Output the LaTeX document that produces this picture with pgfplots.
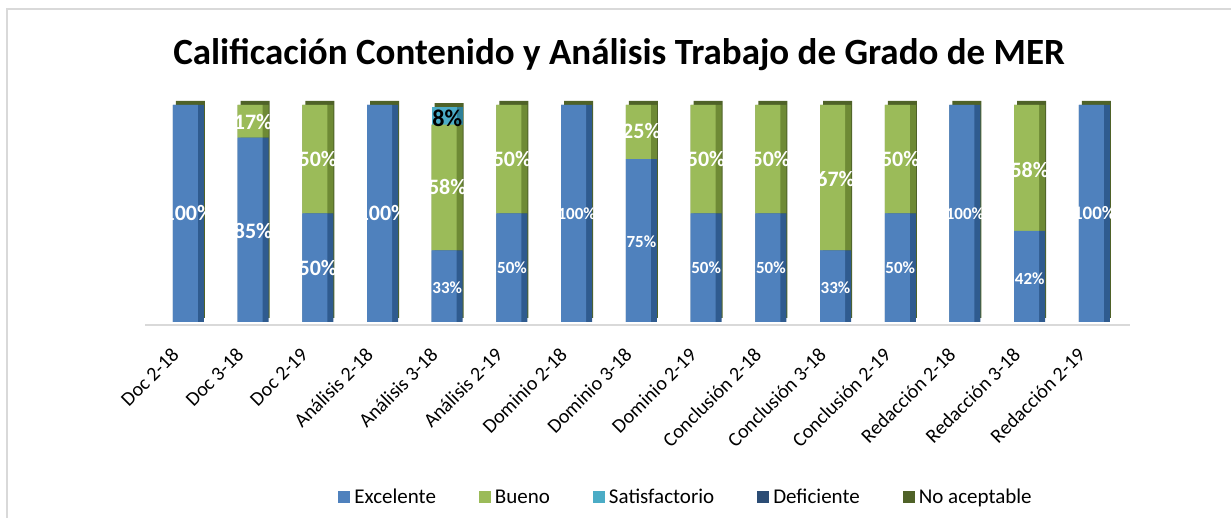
\documentclass[border=0pt]{standalone}
\usepackage{pgfplots}
\usepackage{pgfplotstable}
\pgfplotsset{compat=1.18}
\usepackage{fontspec}
\setmainfont{Carlito}
\definecolor{exc}{HTML}{4F81BD}
\definecolor{excd}{HTML}{2F5B8F}
\definecolor{bue}{HTML}{9BBB59}
\definecolor{bued}{HTML}{6E8A35}
\definecolor{sat}{HTML}{4BACC6}
\definecolor{satd}{HTML}{2E8098}
\definecolor{def}{HTML}{2C4D75}
\definecolor{defd}{HTML}{1F3A5A}
\definecolor{noa}{HTML}{4F6228}
\definecolor{frame}{HTML}{D9D9D9}
\pgfplotstableread{
x exc bue sat def noa
0 100 0 0 0 0
1 85 15 0 0 0
2 50 50 0 0 0
3 100 0 0 0 0
4 33 58 8 0 0
5 50 50 0 0 0
6 100 0 0 0 0
7 75 25 0 0 0
8 50 50 0 0 0
9 50 50 0 0 0
10 33 67 0 0 0
11 50 50 0 0 0
12 100 0 0 0 0
13 42 58 0 0 0
14 100 0 0 0 0
}\datatable
\pgfplotsset{
  base/.style={
    scale only axis, width=985pt, height=220pt,
    at={(145pt,193pt)}, anchor=south west,
    xmin=-0.67, xmax=14.55, ymin=-1.4, ymax=100,
  },
}
\begin{document}
\begin{tikzpicture}
\path[use as bounding box] (0,0) rectangle (1231pt,518pt);
\draw[frame, line width=2pt] (7pt,0pt) -- (7pt,508.5pt) -- (1231pt,508.5pt);
\node[font=\bfseries\fontsize{37}{42}\selectfont] at (619pt,463pt) {Calificación Contenido y Análisis Trabajo de Grado de MER};
% top caps (3D top face of the stacked columns)
\begin{axis}[base, ybar, bar width=29pt, bar shift=2pt, yshift=4pt, hide axis]
\addplot[fill=noa, draw=none] table[x=x, y expr=\thisrow{exc}+\thisrow{bue}+\thisrow{sat}+\thisrow{def}+\thisrow{noa}] {\datatable};
\end{axis}
% back layer: dark sides
\begin{axis}[base, ybar stacked, bar width=31pt,
  axis y line=none, axis x line*=bottom,
  x axis line style={draw=frame, line width=2pt, -},
  xtick={0,...,14}, major tick length=0pt,
  xticklabels={Doc 2-18, Doc 3-18, Doc 2-19, Análisis 2-18, Análisis 3-18, Análisis 2-19, Dominio 2-18, Dominio 3-18, Dominio 2-19, Conclusión 2-18, Conclusión 3-18, Conclusión 2-19, Redacción 2-18, Redacción 3-18, Redacción 2-19},
  xticklabel style={xshift=-18pt, yshift=-20pt, rotate=45, anchor=north east, font=\fontsize{20}{24}\selectfont, inner sep=1pt},
]
\addplot[fill=excd, draw=none] table[x=x, y=exc] {\datatable};
\addplot[fill=bued, draw=none] table[x=x, y=bue] {\datatable};
\addplot[fill=satd, draw=none] table[x=x, y=sat] {\datatable};
\addplot[fill=defd, draw=none] table[x=x, y=def] {\datatable};
\addplot[fill=noa, draw=none] table[x=x, y=noa] {\datatable};
\end{axis}
% front layer: front faces and legend
\begin{axis}[base, ybar stacked, bar width=25pt, bar shift=-3pt, hide axis,
  legend columns=5,
  legend style={at={(0.5503,-0.782)}, anchor=center, draw=none, fill=none,
    font=\fontsize{21}{25}\selectfont,
    /tikz/every even column/.append style={column sep=39pt},
    nodes={inner xsep=4pt, inner ysep=2pt}},
  legend image code/.code={\fill[#1] (0pt,-6pt) rectangle (12pt,6pt);},
]
\addplot[fill=exc, draw=none] table[x=x, y=exc] {\datatable};
\addlegendentry{Excelente}
\addplot[fill=bue, draw=none] table[x=x, y=bue] {\datatable};
\addlegendentry{Bueno}
\addplot[fill=sat, draw=none] table[x=x, y=sat] {\datatable};
\addlegendentry{Satisfactorio}
\addplot[fill=def, draw=none] table[x=x, y=def] {\datatable};
\addlegendentry{Deficiente}
\addplot[fill=noa, draw=none] table[x=x, y=noa] {\datatable};
\addlegendentry{No aceptable}
\end{axis}
% data labels
\begin{axis}[base, hide axis, clip=false,
  nodes near coords, point meta=explicit symbolic,
  every node near coord/.append style={anchor=center, text=white, font=\bfseries\fontsize{22}{26}\selectfont}]
\addplot[only marks, mark=none] coordinates {(0,50)[100\%] (1,42)[85\%] (1,92)[17\%] (2,25)[50\%] (2,75)[50\%] (3,50)[100\%] (4,62)[58\%] (5,75)[50\%] (7,88)[25\%] (8,75)[50\%] (9,75)[50\%] (10,66)[67\%] (11,75)[50\%] (13,70)[58\%]};
\addplot[only marks, mark=none, nodes near coords style={text=black, font=\bfseries\fontsize{24}{28}\selectfont}] coordinates {(4,94)[8\%]};
\addplot[only marks, mark=none, nodes near coords style={font=\bfseries\fontsize{17}{20}\selectfont}] coordinates {(4,16)[33\%] (5,25)[50\%] (6,50)[100\%] (7,37)[75\%] (8,25)[50\%] (9,25)[50\%] (10,16)[33\%] (11,25)[50\%] (12,50)[100\%] (13,20)[42\%]};
\addplot[only marks, mark=none, nodes near coords style={font=\bfseries\fontsize{19}{22}\selectfont}] coordinates {(14,50)[100\%]};
\end{axis}
\end{tikzpicture}
\end{document}
